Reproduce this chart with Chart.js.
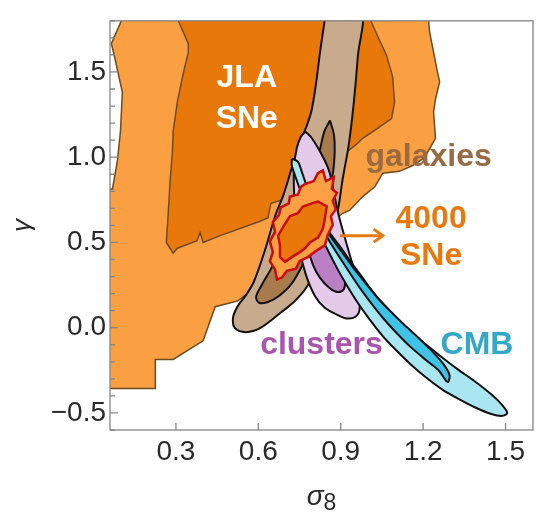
<!DOCTYPE html>
<html>
<head>
<meta charset="utf-8">
<script src="https://cdn.jsdelivr.net/npm/chart.js@4.4.1/dist/chart.umd.min.js"></script>
<style>
    html, body { margin: 0; padding: 0; background: #fff; }
</style>
</head>
<body>
<canvas id="chart" width="539" height="514"></canvas>
<script>
// Axis ranges and tick labels
const sigmaRange = [0.06, 1.6];
const gammaRange = [-0.6, 1.8];
const sigmaTicks = [0.3, 0.6, 0.9, 1.2, 1.5];
const gammaTicks = [-0.5, 0.0, 0.5, 1.0, 1.5];

// Contours, [sigma8, gamma] pairs
const jlaOuter = [[0.113,1.883],[1.216,1.883],[1.223,1.740],[1.252,1.500],[1.260,1.443],[1.245,1.340],[1.238,1.266],[1.245,1.111],[1.205,0.997],[1.162,0.951],[1.114,0.917],[1.053,0.906],[1.024,0.826],[0.980,0.769],[0.933,0.689],[0.907,0.671],[0.570,0.214],[0.526,0.157],[0.443,0.123],[0.399,-0.077],[0.290,-0.186],[0.225,-0.186],[0.225,-0.357],[0.025,-0.357],[0.025,0.814],[0.069,0.814],[0.087,0.980],[0.098,1.151],[0.105,1.380],[0.073,1.614],[0.065,1.666],[0.105,1.814]];
const jlaInner = [[0.305,1.883],[0.987,1.883],[1.034,1.711],[1.067,1.597],[1.089,1.471],[1.096,1.323],[1.085,1.226],[1.034,1.169],[0.980,1.111],[0.958,1.077],[0.715,0.769],[0.690,0.751],[0.646,0.729],[0.635,0.643],[0.599,0.620],[0.461,0.540],[0.399,0.500],[0.388,0.557],[0.377,0.511],[0.305,0.466],[0.290,0.437],[0.265,0.500],[0.272,0.671],[0.279,0.866],[0.287,1.026],[0.290,1.151],[0.305,1.323],[0.327,1.494],[0.345,1.614],[0.345,1.666],[0.305,1.814]];
const galaxiesOuter = [[0.849,1.883],[0.828,1.654],[0.795,1.283],[0.759,1.111],[0.730,0.980],[0.693,0.786],[0.661,0.654],[0.624,0.454],[0.584,0.271],[0.555,0.191],[0.526,0.129],[0.508,0.060],[0.515,-0.003],[0.555,-0.026],[0.606,-0.003],[0.682,0.089],[0.733,0.157],[0.773,0.231],[0.824,0.380],[0.864,0.540],[0.889,0.683],[0.907,0.871],[0.929,1.071],[0.947,1.311],[0.962,1.586],[0.973,1.883]];
const galaxiesInner = [[0.861,1.215],[0.875,1.135],[0.878,1.037],[0.871,0.900],[0.849,0.740],[0.817,0.569],[0.770,0.397],[0.722,0.260],[0.675,0.186],[0.635,0.151],[0.603,0.146],[0.592,0.180],[0.610,0.243],[0.650,0.357],[0.708,0.551],[0.759,0.740],[0.799,0.911],[0.824,1.043],[0.840,1.150]];
const clustersOuter = [[0.772,1.150],[0.795,1.111],[0.831,1.014],[0.857,0.923],[0.871,0.826],[0.889,0.683],[0.911,0.551],[0.933,0.426],[0.951,0.323],[0.962,0.197],[0.969,0.111],[0.955,0.066],[0.922,0.054],[0.886,0.077],[0.842,0.117],[0.806,0.186],[0.773,0.311],[0.751,0.454],[0.737,0.626],[0.730,0.797],[0.730,0.940],[0.740,1.054],[0.755,1.120]];
const clustersInner = [[0.795,0.597],[0.831,0.540],[0.868,0.454],[0.897,0.357],[0.915,0.277],[0.911,0.226],[0.889,0.209],[0.860,0.231],[0.824,0.294],[0.799,0.369],[0.784,0.454],[0.784,0.540]];
const cmbOuter = [[0.722,0.991],[0.744,0.974],[0.759,0.911],[0.777,0.826],[0.799,0.729],[0.828,0.637],[0.860,0.557],[0.897,0.477],[0.929,0.403],[0.966,0.323],[1.002,0.243],[1.045,0.157],[1.093,0.077],[1.143,-0.003],[1.198,-0.083],[1.260,-0.163],[1.325,-0.243],[1.390,-0.317],[1.448,-0.391],[1.488,-0.454],[1.506,-0.500],[1.488,-0.517],[1.448,-0.506],[1.394,-0.471],[1.332,-0.420],[1.270,-0.363],[1.212,-0.294],[1.154,-0.214],[1.103,-0.134],[1.053,-0.049],[1.005,0.049],[0.962,0.146],[0.922,0.249],[0.886,0.351],[0.853,0.454],[0.820,0.563],[0.788,0.677],[0.759,0.780],[0.737,0.877],[0.722,0.951]];
const cmbInner = [[0.809,0.677],[0.842,0.586],[0.878,0.500],[0.915,0.420],[0.951,0.340],[0.991,0.260],[1.031,0.180],[1.078,0.100],[1.129,0.020],[1.183,-0.060],[1.234,-0.140],[1.274,-0.214],[1.296,-0.277],[1.292,-0.317],[1.283,-0.310],[1.257,-0.251],[1.210,-0.189],[1.155,-0.114],[1.105,-0.034],[1.057,0.051],[1.014,0.137],[0.974,0.223],[0.938,0.309],[0.901,0.400],[0.865,0.491],[0.832,0.583],[0.807,0.669]];
const sne4000Outer = [[0.770,0.843],[0.802,0.860],[0.817,0.906],[0.835,0.923],[0.846,0.860],[0.875,0.883],[0.868,0.814],[0.886,0.791],[0.871,0.746],[0.882,0.694],[0.864,0.654],[0.871,0.603],[0.853,0.546],[0.842,0.483],[0.809,0.449],[0.780,0.414],[0.751,0.391],[0.737,0.346],[0.704,0.334],[0.686,0.294],[0.668,0.283],[0.661,0.340],[0.642,0.391],[0.653,0.443],[0.642,0.506],[0.661,0.563],[0.653,0.620],[0.675,0.660],[0.682,0.706],[0.711,0.729],[0.715,0.769],[0.744,0.780],[0.755,0.826]];
const sne4000Inner = [[0.795,0.729],[0.817,0.740],[0.849,0.711],[0.842,0.637],[0.835,0.580],[0.817,0.529],[0.788,0.500],[0.770,0.466],[0.751,0.443],[0.722,0.414],[0.697,0.386],[0.679,0.414],[0.679,0.483],[0.672,0.540],[0.697,0.609],[0.715,0.654],[0.744,0.671],[0.762,0.711]];
const arrowShaft = [[0.897,0.540],[1.050,0.540]];
const arrowHead = [[1.020,0.578],[1.053,0.540],[1.020,0.502]];

// Region labels: text, anchor [sigma8, gamma] (centre, baseline), colour
const regionLabels = [
    ['JLA', [0.558, 1.409], '#ffffff'],
    ['SNe', [0.558, 1.174], '#ffffff'],
    ['galaxies', [1.220, 0.951], '#9a6b42'],
    ['4000', [1.229, 0.587], '#e67a10'],
    ['SNe', [1.229, 0.369], '#e67a10'],
    ['clusters', [0.830, -0.157], '#a955b0'],
    ['CMB', [1.396, -0.157], '#33a8c8']
];

const axisGray = '#858585';
const textDark = '#2a2a2a';

// layers listed back to front
const layers = [
    [jlaOuter, '#fa9f42', '#6e4b1f', 1.5, 0],
    [jlaInner, '#e8780a', '#6e4b1f', 1.5, 0],
    [galaxiesOuter, '#c8aa8c', '#111111', 2, 0.35],
    [galaxiesInner, '#a87a4c', '#111111', 2, 0.35],
    [clustersOuter, '#e2cae8', '#111111', 2, 0.35],
    [clustersInner, '#bb80c3', '#111111', 2, 0.35],
    [cmbOuter, '#aae5f2', '#111111', 2, 0.3],
    [cmbInner, '#3ec3e6', '#111111', 2, 0.3],
    [sne4000Outer, '#fca043', '#c80d0d', 2.5, 0],
    [sne4000Inner, '#e8780a', '#c80d0d', 2.5, 0]
];

function toXY(points) {
    return points.map(p => ({x: p[0], y: p[1]}));
}

const datasets = layers.map((l, i) => {
    const pts = toXY(l[0]);
    pts.push({x: l[0][0][0], y: l[0][0][1]});
    return {
        data: pts,
        backgroundColor: l[1],
        borderColor: l[2],
        borderWidth: l[3],
        tension: l[4],
        fill: 'shape',
        pointRadius: 0,
        clip: 0,
        order: 100 - i
    };
});

[arrowShaft, arrowHead].forEach((a, i) => {
    datasets.push({
        data: toXY(a),
        borderColor: '#e67a10',
        borderWidth: 3,
        fill: false,
        tension: 0,
        pointRadius: 0,
        clip: 0,
        order: 1 - i
    });
});

function isMajorGamma(v) {
    return gammaTicks.some(t => Math.abs(t - v) < 1e-6);
}

const decor = {
    id: 'decor',
    afterDatasetsDraw(chart) {
        const {ctx, scales: {x, y}} = chart;
        ctx.save();
        ctx.font = 'bold 32px "Liberation Sans", Arial, sans-serif';
        ctx.textAlign = 'center';
        ctx.textBaseline = 'alphabetic';
        regionLabels.forEach(([text, at, color]) => {
            ctx.fillStyle = color;
            ctx.fillText(text, x.getPixelForValue(at[0]), y.getPixelForValue(at[1]));
        });
        ctx.restore();
    },
    afterDraw(chart) {
        const {ctx, chartArea: a, scales: {x, y}} = chart;
        ctx.save();
        // frame
        ctx.strokeStyle = axisGray;
        ctx.lineWidth = 1.3;
        ctx.strokeRect(a.left, a.top, a.right - a.left, a.bottom - a.top);
        // inward ticks
        ctx.beginPath();
        x.ticks.forEach(t => {
            const px = x.getPixelForValue(t.value);
            ctx.moveTo(px, a.bottom);
            ctx.lineTo(px, a.bottom - 7);
        });
        y.ticks.forEach(t => {
            const py = y.getPixelForValue(t.value);
            ctx.moveTo(a.left, py);
            ctx.lineTo(a.left + (isMajorGamma(t.value) ? 8 : 5), py);
        });
        ctx.stroke();

        // axis titles
        ctx.fillStyle = textDark;
        ctx.textBaseline = 'alphabetic';
        ctx.save();
        ctx.translate(30, (a.top + a.bottom) / 2);
        ctx.rotate(-Math.PI / 2);
        ctx.textAlign = 'center';
        ctx.font = 'italic 26px "Liberation Sans", Arial, sans-serif';
        ctx.fillText('γ', 0, 0);
        ctx.restore();

        ctx.textAlign = 'left';
        ctx.font = 'italic 28px "Liberation Sans", Arial, sans-serif';
        const wS = ctx.measureText('σ').width;
        ctx.font = '23px "Liberation Sans", Arial, sans-serif';
        const w8 = ctx.measureText('8').width;
        const x0 = (a.left + a.right) / 2 - (wS + w8) / 2;
        ctx.font = 'italic 28px "Liberation Sans", Arial, sans-serif';
        ctx.fillText('σ', x0, 505);
        ctx.font = '23px "Liberation Sans", Arial, sans-serif';
        ctx.fillText('8', x0 + wS, 510);
        ctx.restore();
    }
};

new Chart(document.getElementById('chart'), {
    type: 'line',
    data: { datasets: datasets },
    options: {
        responsive: false,
        animation: false,
        layout: { padding: { left: 0, right: 6, top: 7, bottom: 0 } },
        elements: { line: { capBezierPoints: false } },
        plugins: {
            legend: { display: false },
            tooltip: { enabled: false }
        },
        scales: {
            x: {
                type: 'linear',
                min: sigmaRange[0],
                max: sigmaRange[1],
                grid: { display: false, drawTicks: false },
                border: { display: false },
                afterBuildTicks: s => { s.ticks = sigmaTicks.map(v => ({value: v})); },
                afterFit: s => { s.height = 84; },
                ticks: {
                    autoSkip: false,
                    maxRotation: 0,
                    padding: 5,
                    color: textDark,
                    font: { family: '"Liberation Sans", Arial, sans-serif', size: 28 },
                    callback: v => v.toFixed(1)
                }
            },
            y: {
                type: 'linear',
                min: gammaRange[0],
                max: gammaRange[1],
                grid: { display: false, drawTicks: false },
                border: { display: false },
                afterFit: s => { s.width = 110; },
                ticks: {
                    stepSize: 0.1,
                    autoSkip: false,
                    padding: 4,
                    color: textDark,
                    font: { family: '"Liberation Sans", Arial, sans-serif', size: 28 },
                    callback: v => {
                        if (!isMajorGamma(v)) return '';
                        const r = Math.round(v * 10) / 10;
                        return (r < 0 ? '\u2212' : '') + Math.abs(r).toFixed(1);
                    }
                }
            }
        }
    },
    plugins: [decor]
});
</script>
</body>
</html>
